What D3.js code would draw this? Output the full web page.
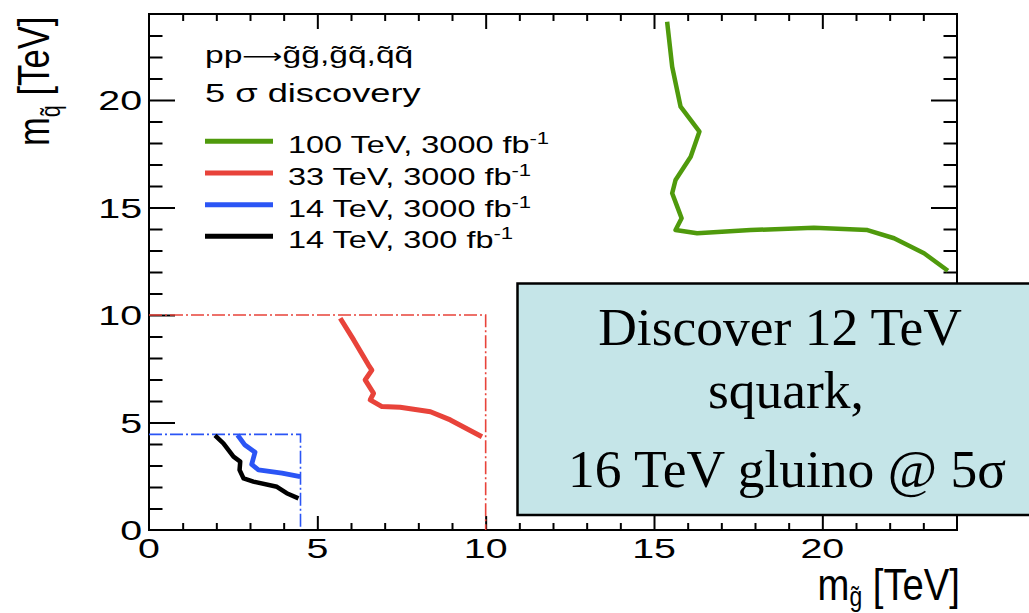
<!DOCTYPE html>
<html>
<head>
<meta charset="utf-8">
<script src="https://cdn.jsdelivr.net/npm/d3@7"></script>
<style>
  html, body { margin: 0; padding: 0; background: #fff; overflow: hidden; }
</style>
</head>
<body>
<svg id="chart" width="1029" height="613"></svg>
<script>
// ---- data -------------------------------------------------------------
// 5 sigma discovery contours in the (gluino mass, squark mass) plane, TeV
const curve100TeV3000 = [
  [15.39, 23.64], [15.54, 21.55], [15.79, 19.69], [16.35, 18.53], [16.09, 17.36],
  [15.64, 16.28], [15.54, 15.66], [15.69, 15.04], [15.82, 14.50], [15.64, 13.95],
  [16.28, 13.80], [17.87, 13.95], [19.75, 14.06], [21.34, 13.95], [22.13, 13.57],
  [23.02, 12.87], [23.73, 12.06]
];
const curve33TeV3000 = [
  [5.68, 9.85], [6.08, 8.84], [6.52, 7.67], [6.62, 7.44], [6.42, 6.98], [6.67, 6.36],
  [6.57, 6.05], [6.92, 5.74], [7.46, 5.71], [8.36, 5.50], [8.95, 5.12], [9.89, 4.34]
];
const curve14TeV3000 = [
  [2.63, 4.42], [2.85, 3.95], [3.15, 3.62], [3.05, 3.05], [3.25, 2.80], [3.95, 2.65], [4.49, 2.48]
];
const curve14TeV300 = [
  [1.96, 4.40], [2.21, 4.03], [2.51, 3.41], [2.71, 3.18], [2.69, 2.79], [2.81, 2.40],
  [3.10, 2.25], [3.80, 2.01], [4.09, 1.71], [4.44, 1.47]
];

// Mass range covered by each simulated grid (dash-dotted boundaries)
const gridEdge33 = [10, 10];
const gridEdge14 = [4.5, 4.45];

const legendLabels = ["100 TeV, 3000 fb", "33 TeV, 3000 fb", "14 TeV, 3000 fb", "14 TeV, 300 fb"];
const legendColors = ["#4f9a0c", "#e8433a", "#2b55f5", "#000000"];

const xTickLabels = [0, 5, 10, 15, 20];
const yTickLabels = [0, 5, 10, 15, 20];
const minorTickValues = [1,2,3,4,6,7,8,9,11,12,13,14,16,17,18,19,21,22,23];

const boxLines = ["Discover 12 TeV", "squark,", "16 TeV gluino @ 5\u03c3"];

// ---- layout -----------------------------------------------------------
const svg = d3.select("#chart");
const L = 149, R = 957, T = 14, B = 530;
const x = d3.scaleLinear().domain([0, 24]).range([L, R]);
const y = d3.scaleLinear().domain([0, 24]).range([B, T]);

const SANS = "'Liberation Sans', Arimo, Arial, Helvetica, sans-serif";
const SERIF = "'Liberation Serif', 'Times New Roman', Times, serif";

// text in a group so it can be stretched horizontally
function stretched(parent, px, py, sx, opts = {}) {
  const rot = opts.rotate ? ` rotate(${opts.rotate})` : "";
  return parent.append("g")
    .attr("transform", `translate(${px},${py})${rot} scale(${sx},1)`)
    .append("text")
    .attr("font-family", opts.family || SANS)
    .attr("font-size", opts.size)
    .attr("text-anchor", opts.anchor || "start")
    .attr("fill", opts.fill || "#000");
}

// ---- frame and ticks --------------------------------------------------
function tickAxis(gen, transform, values, size) {
  const g = svg.append("g").attr("transform", transform)
    .call(gen.tickValues(values).tickSize(size).tickSizeOuter(0).tickFormat(""));
  g.select(".domain").remove();
  g.selectAll(".tick line").attr("stroke", "#000").attr("stroke-width", 2);
}
// ticks point into the frame on all four sides
tickAxis(d3.axisBottom(x), `translate(0,${B})`, xTickLabels.slice(1), -14);
tickAxis(d3.axisBottom(x), `translate(0,${B})`, minorTickValues, -7);
tickAxis(d3.axisTop(x), `translate(0,${T})`, xTickLabels.slice(1), -15);
tickAxis(d3.axisTop(x), `translate(0,${T})`, minorTickValues, -7);
tickAxis(d3.axisLeft(y), `translate(${L},0)`, yTickLabels.slice(1), -26);
tickAxis(d3.axisLeft(y), `translate(${L},0)`, minorTickValues, -13.5);
tickAxis(d3.axisRight(y), `translate(${R},0)`, yTickLabels.slice(1), -26);
tickAxis(d3.axisRight(y), `translate(${R},0)`, minorTickValues, -13.5);

svg.append("rect")
  .attr("x", L).attr("y", T).attr("width", R - L).attr("height", B - T)
  .attr("fill", "none").attr("stroke", "#000").attr("stroke-width", 2);

// tick labels
xTickLabels.forEach(v => {
  stretched(svg, x(v), 558, 1.38, { size: 28.5, anchor: "middle" }).text(v);
});
yTickLabels.forEach(v => {
  stretched(svg, 142, y(v) + 10, 1.38, { size: 28.5, anchor: "end" }).text(v);
});

// axis titles
const xt = stretched(svg, 960, 600, 0.85, { size: 45, anchor: "end" });
xt.append("tspan").text("m");
xt.append("tspan").attr("font-size", 27).attr("dy", 6).text("g\u0303");
xt.append("tspan").attr("dy", -6).text(" [TeV]");

const yt = stretched(svg, 49, 146, 0.77, { size: 45, rotate: -90 });
yt.append("tspan").text("m");
yt.append("tspan").attr("font-size", 28).attr("dy", 11).text("q\u0303");
yt.append("tspan").attr("dy", -11).text(" [TeV]");

// ---- grid boundaries (dash-dotted) ------------------------------------
function gridEdge(edge, color) {
  const pts = [[0, edge[1]], [edge[0], edge[1]], [edge[0], 0]];
  svg.append("path")
    .attr("d", d3.line().x(d => x(d[0])).y(d => y(d[1]))(pts))
    .attr("fill", "none").attr("stroke", color).attr("stroke-width", 1.6)
    .attr("stroke-dasharray", "13,3,2,3");
}
gridEdge(gridEdge33, "#e8433a");
gridEdge(gridEdge14, "#2b55f5");

// ---- contours ---------------------------------------------------------
const line = d3.line().x(d => x(d[0])).y(d => y(d[1]));
[[curve100TeV3000, legendColors[0], 4.5],
 [curve33TeV3000, legendColors[1], 5],
 [curve14TeV3000, legendColors[2], 4.8],
 [curve14TeV300, legendColors[3], 4.5]].forEach(([pts, color, w]) => {
  svg.append("path")
    .attr("d", line(pts))
    .attr("fill", "none").attr("stroke", color).attr("stroke-width", w)
    .attr("stroke-linejoin", "round").attr("stroke-linecap", "butt");
});

// ---- legend -----------------------------------------------------------
const hdr = stretched(svg, 205, 63, 1.4, { size: 24 });
hdr.append("tspan").text("pp");
hdr.append("tspan").attr("font-family", "'DejaVu Sans', sans-serif").attr("font-size", 20).text("\u27f6");
hdr.append("tspan").text("g\u0303g\u0303,g\u0303q\u0303,q\u0303q\u0303");
stretched(svg, 205, 101.7, 1.45, { size: 25 }).text("5 \u03c3 discovery");

legendLabels.forEach((lab, i) => {
  const base = 153.3 + i * 31.67;
  svg.append("line")
    .attr("x1", 205).attr("x2", 273)
    .attr("y1", base - 12).attr("y2", base - 12)
    .attr("stroke", legendColors[i]).attr("stroke-width", 5);
  const t = stretched(svg, 288, base, 1.38, { size: 23.5 });
  t.append("tspan").text(lab);
  t.append("tspan").attr("font-size", 16).attr("dy", -9).text("-1");
});

// ---- annotation box ---------------------------------------------------
svg.append("rect")
  .attr("x", 517.5).attr("y", 283.5).attr("width", 560).attr("height", 231.5)
  .attr("fill", "#c5e5e8").attr("stroke", "#000").attr("stroke-width", 2.5);
const boxX = [780, 786, 787];
const boxY = [345, 408, 487];
boxLines.forEach((s, i) => {
  svg.append("text")
    .attr("x", boxX[i]).attr("y", boxY[i])
    .attr("font-family", SERIF).attr("font-size", 53.5)
    .attr("text-anchor", "middle").attr("fill", "#000")
    .text(s);
});
</script>
</body>
</html>
